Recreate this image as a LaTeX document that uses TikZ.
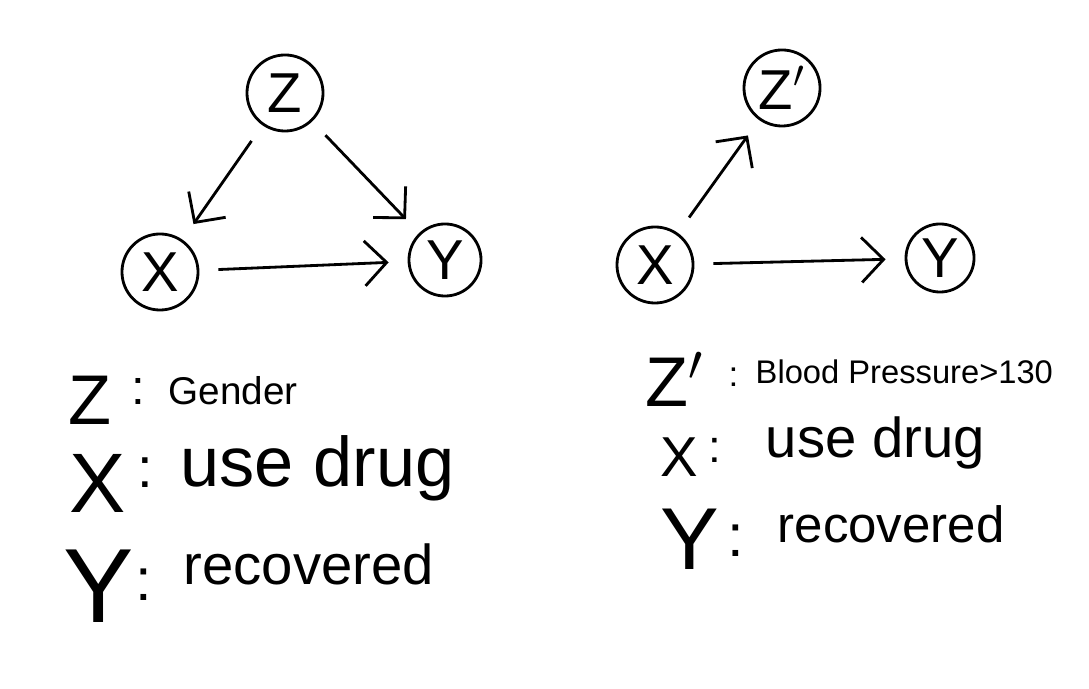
\documentclass[tikz,border=0pt]{standalone}
\usepackage{fontspec}
\setmainfont{Liberation Sans}
\usetikzlibrary{arrows.meta}
\newcommand{\fsz}[1]{\fontsize{#1}{#1}\selectfont}
\begin{document}
\begin{tikzpicture}[x=0.01cm,y=-0.01cm,
  var/.style={circle,draw,line width=0.8pt,minimum size=0.76cm,inner sep=0pt,font=\fsz{16}},
  edge/.style={line width=0.8pt,-{Straight Barb[length=2.2mm,width=4.5mm]},shorten <=0.19cm,shorten >=0.19cm},
  lbl/.style={anchor=base west,inner sep=0pt}]
\path[use as bounding box] (0,0) rectangle (1089,689);
% left graph
\node[var] (zL) at (285,93) {Z};
\node[var] (xL) at (160,272) {X};
\node[var, minimum size=0.72cm] (yL) at (445,260) {Y};
\draw[edge] (zL) -- (xL);
\draw[edge] (zL) -- (yL);
\draw[edge] (xL) -- (yL);
% right graph
\node[var] (zR) at (782,88) {Z$'$};
\node[var] (xR) at (655,265) {X};
\node[var, minimum size=0.68cm] (yR) at (940,258) {Y};
\draw[edge] (xR) -- (zR);
\draw[edge] (xR) -- (yR);
% left legend
\node[lbl,font=\fsz{20}] (lz) at (68,425) {Z};
\node[lbl,font=\fsz{14}] (lzc) at (131,405) {:};
\node[lbl,font=\fsz{11}] (lzt) at (168,405) {Gender};
\node[lbl,font=\fsz{24}] (lx) at (69,513) {X};
\node[lbl,font=\fsz{16}] (lxc) at (137,488) {:};
\node[lbl,font=\fsz{20}] (lxt) at (180,487) {use drug};
\node[lbl,font=\fsz{30}] (ly) at (63,622) {Y};
\node[lbl,font=\fsz{17}] (lyc) at (135,600) {:};
\node[lbl,font=\fsz{16}] (lyt) at (183,584) {recovered};
% right legend
\node[lbl,font=\fsz{20}] (rz) at (645,407) {Z$'$};
\node[lbl,font=\fsz{10}] (rzc) at (728,387) {:};
\node[lbl,font=\fsz{9.3}] (rzt) at (755,384) {Blood Pressure>130};
\node[lbl,font=\fsz{16}] (rx) at (660,477) {X};
\node[lbl,font=\fsz{13}] (rxc) at (708,463) {:};
\node[lbl,font=\fsz{16}] (rxt) at (765,458) {use drug};
\node[lbl,font=\fsz{25}] (ry) at (660,569) {Y};
\node[lbl,font=\fsz{17}] (ryc) at (727,557) {:};
\node[lbl,font=\fsz{14.5}] (ryt) at (777,543) {recovered};
\end{tikzpicture}
\end{document}
